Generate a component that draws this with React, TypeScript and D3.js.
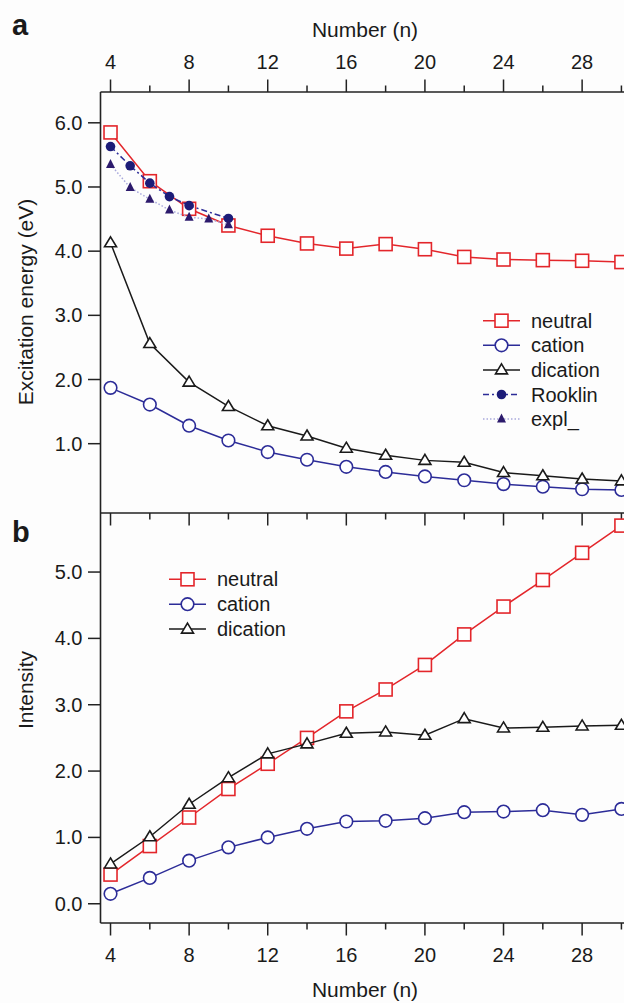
import React from 'react'
import * as d3 from 'd3'

// cluster size n (x for the open-marker series)
const sizes = [4, 6, 8, 10, 12, 14, 16, 18, 20, 22, 24, 26, 28, 30]

// panel a: excitation energy (eV)
const neutralA = [5.85, 5.09, 4.66, 4.4, 4.24, 4.12, 4.04, 4.11, 4.03, 3.91, 3.87, 3.86, 3.85, 3.83]
const cationA = [1.87, 1.61, 1.28, 1.05, 0.87, 0.75, 0.64, 0.56, 0.49, 0.43, 0.37, 0.33, 0.29, 0.28]
const dicationA = [4.13, 2.56, 1.96, 1.58, 1.28, 1.12, 0.93, 0.82, 0.74, 0.71, 0.55, 0.5, 0.45, 0.42]
const rooklinN = [4, 5, 6, 7, 8, 10]
const rooklinA = [5.63, 5.33, 5.06, 4.85, 4.71, 4.51]
const explN = [4, 5, 6, 7, 8, 9, 10]
const explA = [5.35, 4.99, 4.81, 4.64, 4.53, 4.5, 4.41]

// panel b: intensity
const neutralB = [0.44, 0.87, 1.3, 1.73, 2.11, 2.5, 2.9, 3.23, 3.6, 4.06, 4.48, 4.88, 5.29, 5.7]
const cationB = [0.15, 0.39, 0.65, 0.85, 1.0, 1.13, 1.24, 1.25, 1.29, 1.38, 1.39, 1.41, 1.34, 1.43]
const dicationB = [0.6, 1.01, 1.5, 1.9, 2.26, 2.41, 2.57, 2.59, 2.54, 2.79, 2.65, 2.66, 2.68, 2.69]

// axis ticks
const xTicks = [4, 6, 8, 10, 12, 14, 16, 18, 20, 22, 24, 26, 28, 30]
const xLabels = [4, 8, 12, 16, 20, 24, 28]
const yTicksA = [1, 2, 3, 4, 5, 6]
const yTicksB = [0, 1, 2, 3, 4, 5]

const RED = '#e3262b'
const BLUE = '#2c2c98'
const BLACK = '#1a1a1a'
const NAVY = '#1c1c78'
const PURPLE = '#2c1a6c'
const LAVENDER = '#a9a9dc'
const AXIS = '#222'
const FONT = '"Liberation Sans", Arial, Helvetica, sans-serif'

const W = 624
const H = 1003
const left = 100.5
const topA = 92
const midY = 513
const bottomB = 923

const x = d3.scaleLinear().domain([3.49, 31]).range([left, left + 27.51 * 19.65])
const yA = d3.scaleLinear().domain([-0.08, 6.48]).range([midY, topA])
const yB = d3.scaleLinear().domain([-0.29, 5.89]).range([bottomB, midY])

type Shape = 'square' | 'circle' | 'triangle' | 'dot' | 'solidTriangle'

const Marker = ({ shape, cx, cy, color }: { shape: Shape; cx: number; cy: number; color: string }) => {
  if (shape === 'square')
    return <rect x={cx - 6.5} y={cy - 6.5} width={13} height={13} fill="white" stroke={color} strokeWidth={1.6} />
  if (shape === 'circle') return <circle cx={cx} cy={cy} r={6.3} fill="white" stroke={color} strokeWidth={1.6} />
  if (shape === 'triangle')
    return (
      <path
        d={`M${cx},${cy - 6} L${cx + 6},${cy + 4} L${cx - 6},${cy + 4} Z`}
        fill="white"
        stroke={color}
        strokeWidth={1.6}
        strokeLinejoin="miter"
      />
    )
  if (shape === 'dot') return <circle cx={cx} cy={cy} r={4.8} fill={color} />
  return <path d={`M${cx},${cy - 5.5} L${cx + 4.5},${cy + 3.5} L${cx - 4.5},${cy + 3.5} Z`} fill={color} />
}

type Series = {
  name: string
  xs: number[]
  ys: number[]
  color: string
  line: string
  shape: Shape
  dash?: string
  width?: number
}

const SeriesPlot = ({ s, y }: { s: Series; y: d3.ScaleLinear<number, number> }) => {
  const pts: [number, number][] = s.xs.map((n, i) => [x(n), y(s.ys[i])])
  const line = d3.line()(pts) || ''
  return (
    <g>
      <path d={line} fill="none" stroke={s.line} strokeWidth={s.width ?? 1.5} strokeDasharray={s.dash} />
      {pts.map(([px, py], i) => (
        <Marker key={i} shape={s.shape} cx={px} cy={py} color={s.color} />
      ))}
    </g>
  )
}

const Legend = ({ items, lx, ly, step }: { items: Series[]; lx: number; ly: number; step: number }) => (
  <g>
    {items.map((s, i) => {
      const cy = ly + i * step
      return (
        <g key={s.name}>
          <line x1={lx} x2={lx + 37} y1={cy} y2={cy} stroke={s.line} strokeWidth={s.width ?? 1.5} strokeDasharray={s.dash} />
          <Marker shape={s.shape} cx={lx + 18.5} cy={cy} color={s.color} />
          <text x={lx + 48} y={cy} dy="0.35em" fontSize={20} fill={BLACK}>
            {s.name}
          </text>
        </g>
      )
    })}
  </g>
)

const seriesA: Series[] = [
  { name: 'neutral', xs: sizes, ys: neutralA, color: RED, line: RED, shape: 'square' },
  { name: 'cation', xs: sizes, ys: cationA, color: BLUE, line: BLUE, shape: 'circle' },
  { name: 'dication', xs: sizes, ys: dicationA, color: BLACK, line: BLACK, shape: 'triangle' },
  { name: 'Rooklin', xs: rooklinN, ys: rooklinA, color: NAVY, line: BLUE, shape: 'dot', dash: '6,3,2,3' },
  { name: 'expl_', xs: explN, ys: explA, color: PURPLE, line: LAVENDER, shape: 'solidTriangle', dash: '1.5,2' },
]

const seriesB: Series[] = [
  { name: 'neutral', xs: sizes, ys: neutralB, color: RED, line: RED, shape: 'square' },
  { name: 'cation', xs: sizes, ys: cationB, color: BLUE, line: BLUE, shape: 'circle' },
  { name: 'dication', xs: sizes, ys: dicationB, color: BLACK, line: BLACK, shape: 'triangle' },
]

const XTicks = ({ y0, dir }: { y0: number; dir: number }) => (
  <g>
    {xTicks.map((t) => {
      const major = t % 4 === 0
      return (
        <line key={t} x1={x(t)} x2={x(t)} y1={y0} y2={y0 + dir * (major ? 12.5 : 6.5)} stroke={AXIS} strokeWidth={1.5} />
      )
    })}
  </g>
)

const YAxis = ({ ticks, y }: { ticks: number[]; y: d3.ScaleLinear<number, number> }) => (
  <g>
    {ticks.map((t) => (
      <g key={t}>
        <line x1={left - 12.5} x2={left} y1={y(t)} y2={y(t)} stroke={AXIS} strokeWidth={1.5} />
        <text x={left - 18} y={y(t)} dy="0.35em" textAnchor="end" fontSize={20} fill={BLACK}>
          {d3.format('.1f')(t)}
        </text>
      </g>
    ))}
  </g>
)

export default function App() {
  return (
    <svg
      width={W}
      height={H}
      viewBox={`0 0 ${W} ${H}`}
      style={{ position: 'absolute', left: 0, top: 0, display: 'block', background: '#fdfdfd' }}
      fontFamily={FONT}
    >
      {/* frame lines */}
      <line x1={left} x2={W + 10} y1={topA} y2={topA} stroke={AXIS} strokeWidth={1.6} />
      <line x1={left} x2={W + 10} y1={midY} y2={midY} stroke={AXIS} strokeWidth={1.6} />
      <line x1={left} x2={W + 10} y1={bottomB} y2={bottomB} stroke={AXIS} strokeWidth={1.6} />
      <line x1={left} x2={left} y1={topA} y2={bottomB} stroke={AXIS} strokeWidth={1.6} />

      <XTicks y0={topA} dir={-1} />
      <XTicks y0={midY} dir={1} />
      <XTicks y0={bottomB} dir={1} />

      {xLabels.map((t) => (
        <g key={t}>
          <text x={x(t)} y={69} textAnchor="middle" fontSize={20} fill={BLACK}>
            {t}
          </text>
          <text x={x(t)} y={962} textAnchor="middle" fontSize={20} fill={BLACK}>
            {t}
          </text>
        </g>
      ))}

      <YAxis ticks={yTicksA} y={yA} />
      <YAxis ticks={yTicksB} y={yB} />

      {/* titles */}
      <text x={365} y={37} textAnchor="middle" fontSize={21} fill={BLACK}>
        Number (n)
      </text>
      <text x={365} y={997} textAnchor="middle" fontSize={21} fill={BLACK}>
        Number (n)
      </text>
      <text transform="translate(33,302) rotate(-90)" textAnchor="middle" fontSize={21} fill={BLACK}>
        Excitation energy (eV)
      </text>
      <text transform="translate(33,690) rotate(-90)" textAnchor="middle" fontSize={21} fill={BLACK}>
        Intensity
      </text>
      <text x={12} y={35} fontSize={29} fontWeight="bold" fill={BLACK}>
        a
      </text>
      <text x={12} y={542} fontSize={29} fontWeight="bold" fill={BLACK}>
        b
      </text>

      {seriesA.map((s) => (
        <SeriesPlot key={s.name} s={s} y={yA} />
      ))}
      {seriesB.map((s) => (
        <SeriesPlot key={s.name} s={s} y={yB} />
      ))}

      <Legend items={seriesA} lx={483} ly={320.7} step={24.6} />
      <Legend items={seriesB} lx={169} ly={579.3} step={24.9} />
    </svg>
  )
}
